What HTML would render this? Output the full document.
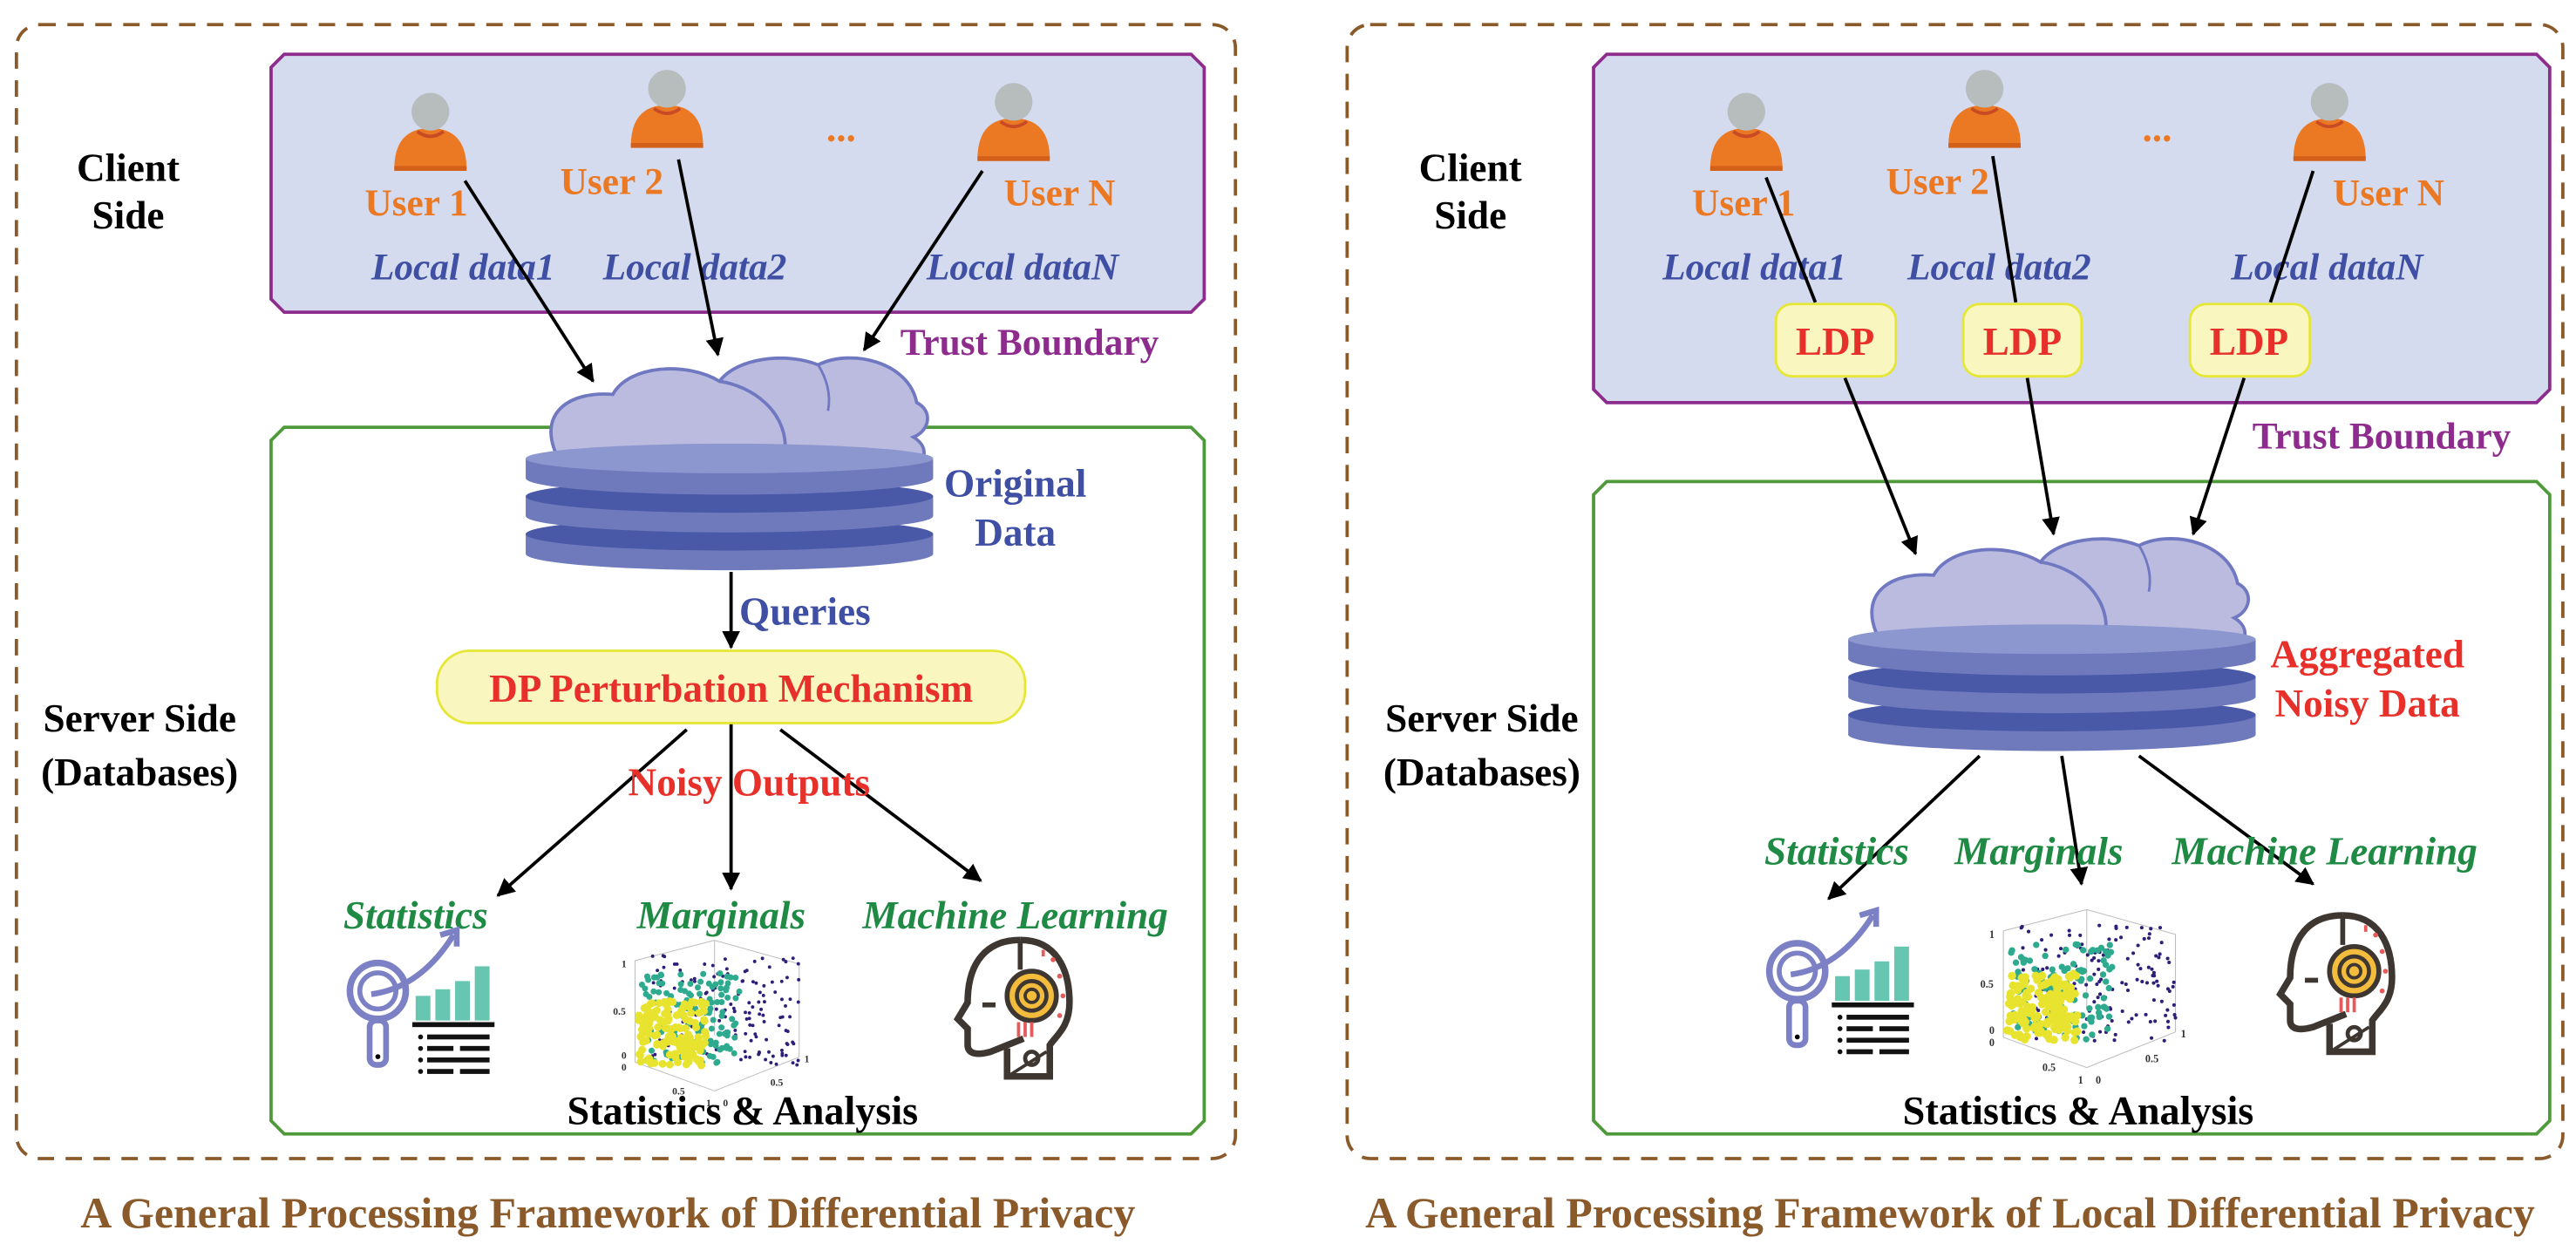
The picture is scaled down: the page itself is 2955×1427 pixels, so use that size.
<!DOCTYPE html>
<html><head><meta charset="utf-8"><style>
html,body{margin:0;padding:0;background:#fff;}
svg{display:block;}
text{font-family:"Liberation Serif",serif;font-weight:bold;}
.it{font-style:italic;}
</style></head><body>
<svg id="s" width="2955" height="1427" viewBox="0 0 1568 757" preserveAspectRatio="none" xmlns="http://www.w3.org/2000/svg">
<defs>
<marker id="ar" markerWidth="11" markerHeight="11" refX="10" refY="5.5" orient="auto" markerUnits="userSpaceOnUse">
<path d="M0,0 L11,5.5 L0,11 Z" fill="#000"/></marker>
<g id="user">
<path d="M-22,25 Q-22,0 0,0 Q22,0 22,25 Z" fill="#EB7823"/>
<path d="M-22,23 L22,23 L22,26 L-22,26Z" fill="#D2601A"/>
<path d="M-8,2 Q0,8 8,2" stroke="#C84B25" stroke-width="2" fill="none"/>
<circle cx="0" cy="-10" r="11.5" fill="#B7BCBD"/>
</g>
<g id="cloud">
<path d="M10,65 C0,40 20,28 45,30 C55,12 90,10 110,22 C120,8 150,4 170,12 C190,2 225,10 230,35 C240,40 238,52 228,56 C238,62 236,72 225,78 L12,78 Z" fill="#BABBDE" stroke="#6F78C0" stroke-width="2"/>
<path d="M110,22 C130,25 150,40 150,62" fill="none" stroke="#6F78C0" stroke-width="2"/>
<path d="M170,12 C175,20 178,30 176,40" fill="none" stroke="#6F78C0" stroke-width="1.5"/>
</g>
<g id="db">
<ellipse cx="124" cy="67" rx="124" ry="10" fill="#6E7ABC"/>
<rect x="0" y="55" width="248" height="12" fill="#6E7ABC"/>
<ellipse cx="124" cy="55" rx="124" ry="10" fill="#4A58A8"/>
<ellipse cx="124" cy="44" rx="124" ry="10" fill="#6E7ABC"/>
<rect x="0" y="32" width="248" height="12" fill="#6E7ABC"/>
<ellipse cx="124" cy="32" rx="124" ry="10" fill="#4A58A8"/>
<ellipse cx="124" cy="21" rx="124" ry="10" fill="#6E7ABC"/>
<rect x="0" y="9" width="248" height="12" fill="#6E7ABC"/>
<ellipse cx="124" cy="9" rx="124" ry="9" fill="#8C97CF"/>
</g>
<g id="stat">
<circle cx="22" cy="40" r="17" fill="none" stroke="#7C80C4" stroke-width="4"/>
<circle cx="22" cy="40" r="11" fill="none" stroke="#7C80C4" stroke-width="3"/>
<rect x="17" y="58" width="10" height="27" rx="4" fill="none" stroke="#7C80C4" stroke-width="3.5"/>
<circle cx="22" cy="80" r="1.5" fill="#000"/>
<path d="M18,42 Q48,38 68,6" fill="none" stroke="#7C80C4" stroke-width="3.5"/>
<path d="M60,6 L70,3 L70,13" fill="none" stroke="#7C80C4" stroke-width="3.5"/>
<rect x="45" y="43" width="9" height="15" fill="#66C6B2"/>
<rect x="57" y="39" width="9" height="19" fill="#66C6B2"/>
<rect x="69" y="34" width="9" height="24" fill="#66C6B2"/>
<rect x="81" y="25" width="9" height="33" fill="#66C6B2"/>
<rect x="43" y="59" width="50" height="3" fill="#111"/>
<g fill="#111"><circle cx="48" cy="68" r="1.5"/><rect x="52" y="66.5" width="38" height="3"/>
<circle cx="48" cy="75" r="1.5"/><rect x="52" y="73.5" width="16" height="3"/><rect x="72" y="73.5" width="18" height="3"/>
<circle cx="48" cy="82" r="1.5"/><rect x="52" y="80.5" width="38" height="3"/>
<circle cx="48" cy="89" r="1.5"/><rect x="52" y="87.5" width="16" height="3"/><rect x="72" y="87.5" width="18" height="3"/></g>
</g>
<g id="ml">
<path d="M40,2 C20,2 8,15 8,40 L2,50 L8,56 L8,66 C8,72 15,72 22,70 L42,62" fill="none" stroke="#3E3630" stroke-width="4"/>
<path d="M40,2 C62,2 70,20 70,40 C70,55 62,60 58,66 L58,85 L32,85 L32,68" fill="none" stroke="#3E3630" stroke-width="4"/>
<line x1="40" y1="2" x2="40" y2="20" stroke="#3E3630" stroke-width="3"/>
<circle cx="47" cy="36" r="15" fill="#F4BC3C" stroke="#3E3630" stroke-width="3"/>
<circle cx="47" cy="36" r="9" fill="none" stroke="#3E3630" stroke-width="2.5"/>
<circle cx="47" cy="36" r="4" fill="none" stroke="#3E3630" stroke-width="2"/>
<rect x="17" y="40" width="8" height="3" fill="#3E3630"/>
<g fill="#E55A5A"><rect x="38" y="52" width="2" height="9"/><rect x="42" y="52" width="2" height="9"/><rect x="46" y="52" width="2" height="9"/>
<rect x="53" y="8" width="2" height="4"/><circle cx="60" cy="14" r="1.5"/><circle cx="64" cy="24" r="1.5"/><circle cx="66" cy="36" r="1.5"/><circle cx="64" cy="48" r="1.5"/></g>
<circle cx="47" cy="74" r="4" fill="none" stroke="#3E3630" stroke-width="2.5"/>
<path d="M34,84 L56,70" stroke="#3E3630" stroke-width="2"/>
</g>
</defs>

<!-- LEFT PANEL -->
<rect x="10" y="15" width="742" height="690" rx="14" fill="none" stroke="#8B5A2B" stroke-width="2" stroke-dasharray="10 7"/>
<polygon points="173,33 725,33 733,41 733,182 725,190 173,190 165,182 165,41" fill="#D5DBEE" stroke="#8E2C8E" stroke-width="2"/>
<polygon points="173,260 725,260 733,268 733,682 725,690 173,690 165,682 165,268" fill="#fff" stroke="#4E9A3A" stroke-width="2"/>
<text x="78" y="110" font-size="24" text-anchor="middle">Client</text>
<text x="78" y="139" font-size="24" text-anchor="middle">Side</text>
<text x="85" y="445" font-size="24" text-anchor="middle">Server Side</text>
<text x="85" y="478" font-size="24" text-anchor="middle">(Databases)</text>
<use href="#user" x="262" y="78"/>
<use href="#user" x="406" y="64"/>
<use href="#user" x="617" y="72"/>
<text x="512" y="86" font-size="24" fill="#EB7823" text-anchor="middle">...</text>
<text x="222" y="131" font-size="23" fill="#EB7823">User 1</text>
<text x="341" y="118" font-size="23" fill="#EB7823">User 2</text>
<text x="611" y="125" font-size="23" fill="#EB7823">User N</text>
<text x="226" y="170" font-size="23" fill="#3F4FA3" class="it">Local data1</text>
<text x="367" y="170" font-size="23" fill="#3F4FA3" class="it">Local data2</text>
<text x="564" y="170" font-size="23" fill="#3F4FA3" class="it">Local dataN</text>
<text x="548" y="216" font-size="23" fill="#8E2C8E">Trust Boundary</text>
<use href="#cloud" x="328" y="210"/>
<use href="#db" x="320" y="270"/>
<text x="618" y="302" font-size="24" fill="#3F4FA3" text-anchor="middle">Original</text>
<text x="618" y="332" font-size="24" fill="#3F4FA3" text-anchor="middle">Data</text>
<g stroke="#000" stroke-width="2" fill="none" marker-end="url(#ar)">
<line x1="283" y1="110" x2="361" y2="232"/>
<line x1="413" y1="97" x2="437" y2="216"/>
<line x1="598" y1="104" x2="526" y2="213"/>
<line x1="445" y1="348" x2="445" y2="394"/>
<line x1="418" y1="444" x2="303" y2="545"/>
<line x1="445" y1="440" x2="445" y2="541"/>
<line x1="475" y1="444" x2="597" y2="536"/>
</g>
<text x="450" y="380" font-size="24" fill="#3F4FA3">Queries</text>
<rect x="266" y="396" width="358" height="44" rx="20" fill="#FAF6C0" stroke="#E6E636" stroke-width="1.5"/>
<text x="445" y="427" font-size="24" fill="#E8302A" text-anchor="middle">DP Perturbation Mechanism</text>
<text x="456" y="484" font-size="24" fill="#E8302A" text-anchor="middle">Noisy Outputs</text>
<text x="253" y="565" font-size="24" fill="#1E8A43" class="it" text-anchor="middle">Statistics</text>
<text x="439" y="565" font-size="24" fill="#1E8A43" class="it" text-anchor="middle">Marginals</text>
<text x="618" y="565" font-size="24" fill="#1E8A43" class="it" text-anchor="middle">Machine Learning</text>
<use href="#stat" x="208" y="563"/>
<g id="sc1" transform="translate(368,566) scale(1.03)"></g>
<use href="#ml" x="581" y="570"/>
<text x="452" y="684" font-size="24.5" fill="#000" text-anchor="middle">Statistics &amp; Analysis</text>
<text x="370" y="747" font-size="26.5" fill="#8B5A2B" text-anchor="middle">A General Processing Framework of Differential Privacy</text>

<!-- RIGHT PANEL -->
<rect x="820" y="15" width="740" height="690" rx="14" fill="none" stroke="#8B5A2B" stroke-width="2" stroke-dasharray="10 7"/>
<polygon points="978,33 1544,33 1552,41 1552,237 1544,245 978,245 970,237 970,41" fill="#D5DBEE" stroke="#8E2C8E" stroke-width="2"/>
<polygon points="978,293 1544,293 1552,301 1552,682 1544,690 978,690 970,682 970,301" fill="#fff" stroke="#4E9A3A" stroke-width="2"/>
<text x="895" y="110" font-size="24" text-anchor="middle">Client</text>
<text x="895" y="139" font-size="24" text-anchor="middle">Side</text>
<text x="902" y="445" font-size="24" text-anchor="middle">Server Side</text>
<text x="902" y="478" font-size="24" text-anchor="middle">(Databases)</text>
<use href="#user" x="1063" y="78"/>
<use href="#user" x="1208" y="64"/>
<use href="#user" x="1418" y="72"/>
<text x="1313" y="86" font-size="24" fill="#EB7823" text-anchor="middle">...</text>
<text x="1030" y="131" font-size="23" fill="#EB7823">User 1</text>
<text x="1148" y="118" font-size="23" fill="#EB7823">User 2</text>
<text x="1420" y="125" font-size="23" fill="#EB7823">User N</text>
<text x="1012" y="170" font-size="23" fill="#3F4FA3" class="it">Local data1</text>
<text x="1161" y="170" font-size="23" fill="#3F4FA3" class="it">Local data2</text>
<text x="1358" y="170" font-size="23" fill="#3F4FA3" class="it">Local dataN</text>
<g stroke="#000" stroke-width="2" fill="none">
<line x1="1075" y1="108" x2="1105" y2="184"/>
<line x1="1213" y1="95" x2="1227" y2="184"/>
<line x1="1408" y1="104" x2="1382" y2="184"/>
</g>
<g stroke="#000" stroke-width="2" fill="none" marker-end="url(#ar)">
<line x1="1123" y1="230" x2="1166" y2="337"/>
<line x1="1234" y1="230" x2="1250" y2="325"/>
<line x1="1366" y1="230" x2="1335" y2="325"/>
<line x1="1205" y1="460" x2="1113" y2="547"/>
<line x1="1255" y1="460" x2="1267" y2="538"/>
<line x1="1302" y1="460" x2="1408" y2="538"/>
</g>
<rect x="1081" y="185" width="73" height="44" rx="10" fill="#FAF6C0" stroke="#E6E636" stroke-width="1.5"/>
<rect x="1195" y="185" width="72" height="44" rx="10" fill="#FAF6C0" stroke="#E6E636" stroke-width="1.5"/>
<rect x="1333" y="185" width="73" height="44" rx="10" fill="#FAF6C0" stroke="#E6E636" stroke-width="1.5"/>
<text x="1117" y="216" font-size="24" fill="#E8302A" text-anchor="middle">LDP</text>
<text x="1231" y="216" font-size="24" fill="#E8302A" text-anchor="middle">LDP</text>
<text x="1369" y="216" font-size="24" fill="#E8302A" text-anchor="middle">LDP</text>
<text x="1371" y="273" font-size="23" fill="#8E2C8E">Trust Boundary</text>
<use href="#cloud" x="1132" y="320"/>
<use href="#db" x="1125" y="380"/>
<text x="1441" y="406" font-size="24" fill="#E8302A" text-anchor="middle">Aggregated</text>
<text x="1441" y="436" font-size="24" fill="#E8302A" text-anchor="middle">Noisy Data</text>
<text x="1118" y="526" font-size="24" fill="#1E8A43" class="it" text-anchor="middle">Statistics</text>
<text x="1241" y="526" font-size="24" fill="#1E8A43" class="it" text-anchor="middle">Marginals</text>
<text x="1415" y="526" font-size="24" fill="#1E8A43" class="it" text-anchor="middle">Machine Learning</text>
<use href="#stat" x="1072" y="551"/>
<g id="sc2" transform="translate(1200,547) scale(1.08)"></g>
<use href="#ml" x="1386" y="555"/>
<text x="1265" y="684" font-size="24.5" fill="#000" text-anchor="middle">Statistics &amp; Analysis</text>
<text x="1187" y="747" font-size="26.5" fill="#8B5A2B" text-anchor="middle">A General Processing Framework of Local Differential Privacy</text>
</svg>
<script>
(function(){
function build(g,s){
  var seed=s;function r(){seed=(seed*16807)%2147483647;return seed/2147483647;}
  var h='';
  h+='<g stroke="#bbb" stroke-width="0.5" fill="none"><path d="M18,18 L18,78 L65,95 L115,75"/><path d="M18,18 L65,6 L115,20 L115,75"/><path d="M65,6 L65,62"/></g>';
  h+='<g font-family="Liberation Sans,sans-serif" font-size="6" fill="#333"><text x="10" y="22">1</text><text x="5" y="50">0.5</text><text x="10" y="76">0</text><text x="10" y="83">0</text><text x="40" y="97">0.5</text><text x="60" y="104">1</text><text x="70" y="104">0</text><text x="98" y="92">0.5</text><text x="118" y="78">1</text></g>';
  for(var i=0;i<150;i++){var x=28+r()*87,y=15+r()*65;h+='<circle cx="'+x.toFixed(1)+'" cy="'+y.toFixed(1)+'" r="1" fill="#2E1E78"/>';}
  for(var i=0;i<120;i++){var x=22+r()*58,y=25+r()*55;h+='<circle cx="'+x.toFixed(1)+'" cy="'+y.toFixed(1)+'" r="1.8" fill="#2EAA8E"/>';}
  for(var i=0;i<150;i++){var x=20+r()*40,y=42+r()*38;h+='<circle cx="'+x.toFixed(1)+'" cy="'+y.toFixed(1)+'" r="2.3" fill="#E8E32E"/>';}
  g.innerHTML=h;
}
build(document.getElementById('sc1'),7);build(document.getElementById('sc2'),11);
})();
</script>
</body></html>
